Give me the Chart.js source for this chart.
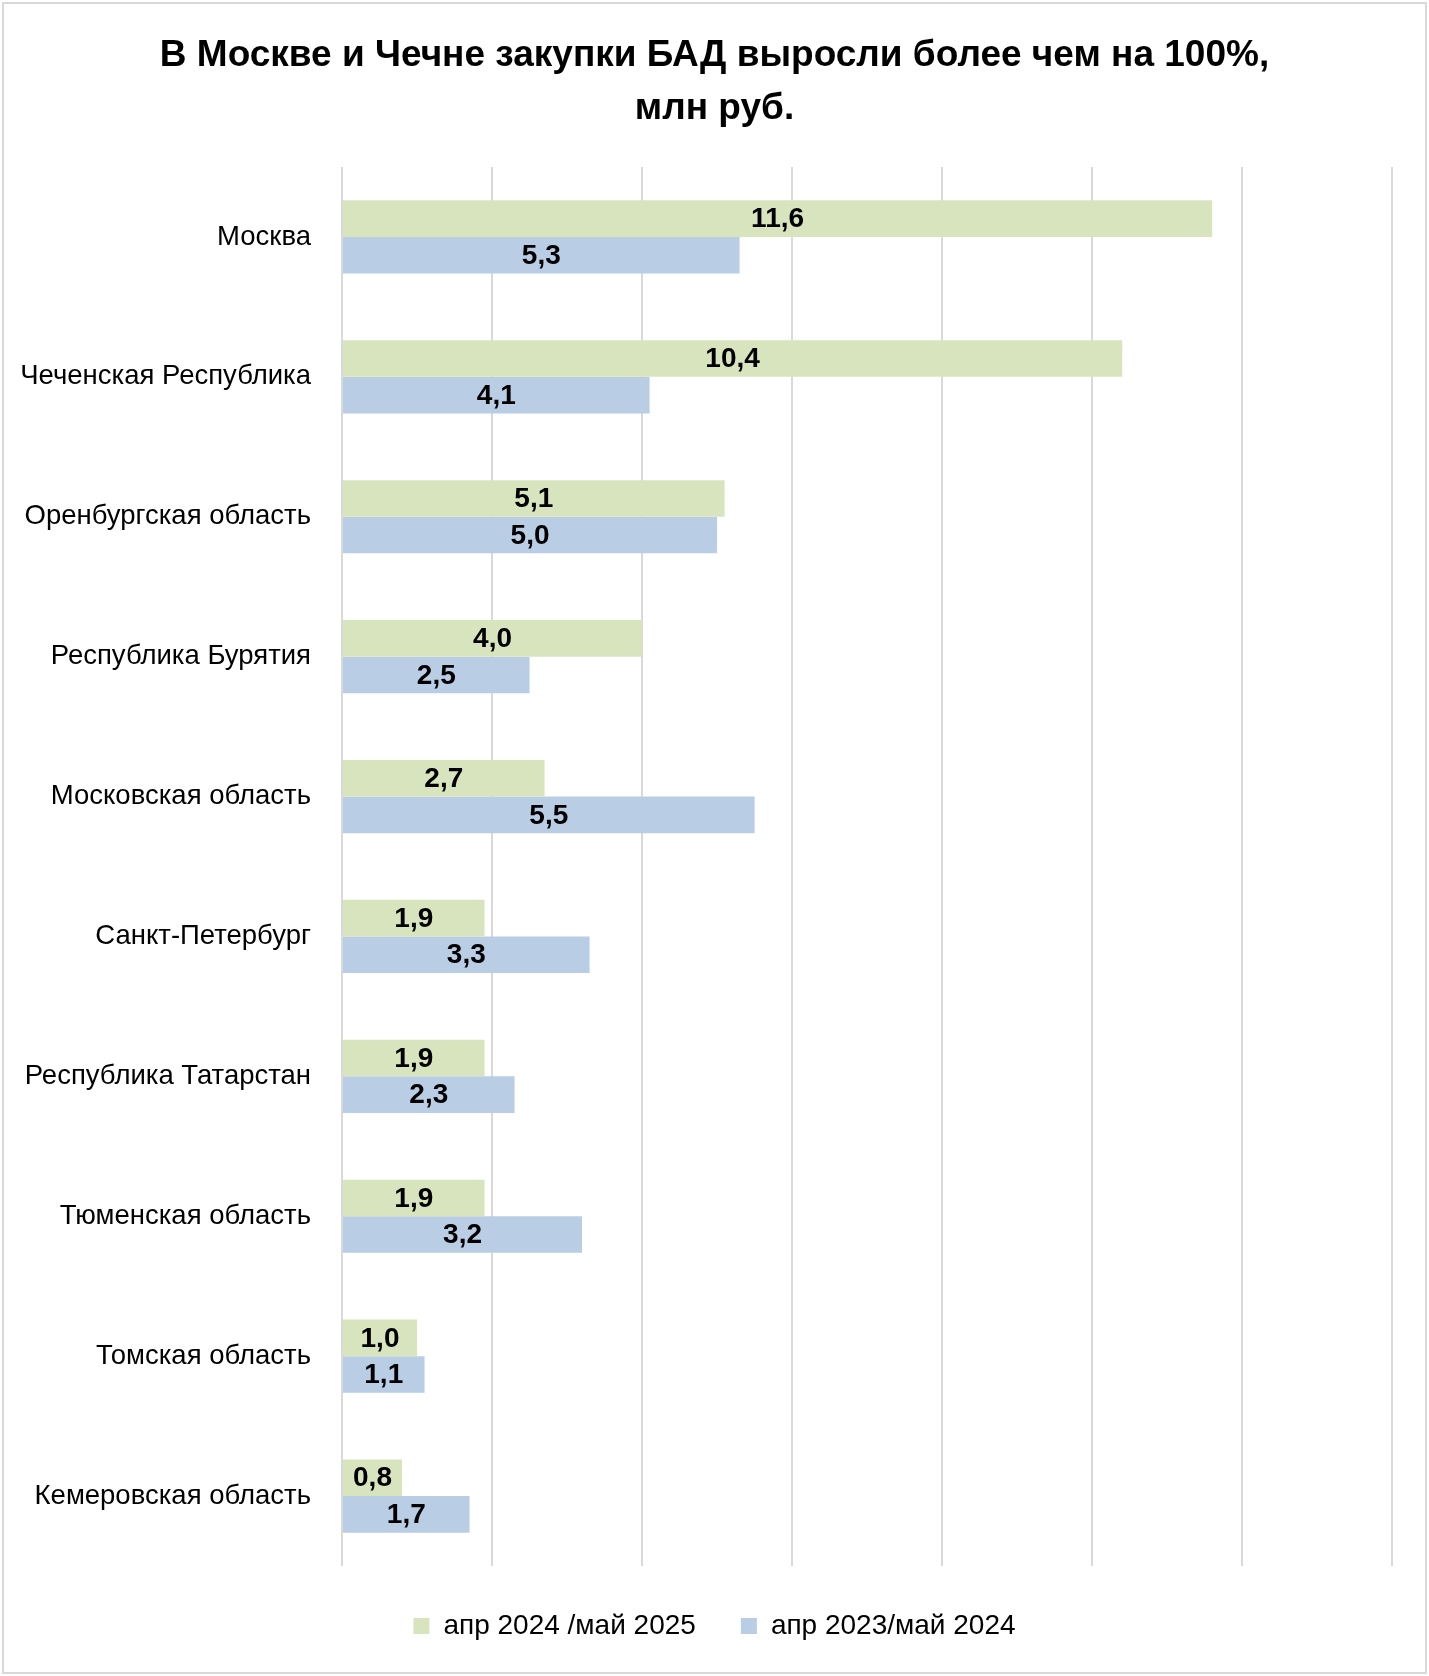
<!doctype html>
<html lang="ru">
  <head>
    <meta charset="UTF-8" />
    <title>Закупки БАД</title>
    <script src="https://cdn.jsdelivr.net/npm/chart.js"></script>
    <style>
      body { margin: 0; background: #fff; }
      #wrap { width: 1429px; height: 1676px; }
    </style>
  </head>
  <body>
    <div id="wrap"><canvas id="badChart"></canvas></div>
    <script>
      var regions = [
        "Москва",
        "Чеченская Республика",
        "Оренбургская область",
        "Республика Бурятия",
        "Московская область",
        "Санкт-Петербург",
        "Республика Татарстан",
        "Тюменская область",
        "Томская область",
        "Кемеровская область",
      ];
      var values2025 = [11.6, 10.4, 5.1, 4.0, 2.7, 1.9, 1.9, 1.9, 1.0, 0.8];
      var values2024 = [5.3, 4.1, 5.0, 2.5, 5.5, 3.3, 2.3, 3.2, 1.1, 1.7];
      var seriesNames = ["апр 2024 /май 2025", "апр 2023/май 2024"];

      Chart.defaults.font.family = "'Liberation Sans', Arial, sans-serif";
      Chart.defaults.color = "#000";

      // white background + light frame
      var frame = {
        id: "frame",
        beforeDraw: function (chart) {
          var c = chart.ctx;
          c.save();
          c.fillStyle = "#fff";
          c.fillRect(0, 0, chart.width, chart.height);
          c.strokeStyle = "#d9d9d9";
          c.lineWidth = 2;
          c.strokeRect(3, 3, chart.width - 6, chart.height - 6);
          c.restore();
        },
      };

      // value labels in the middle of each bar, comma decimal
      var barLabels = {
        id: "barLabels",
        afterDatasetsDraw: function (chart) {
          var c = chart.ctx;
          c.save();
          c.font = "bold 28px 'Liberation Sans', Arial, sans-serif";
          c.fillStyle = "#000";
          c.textAlign = "center";
          c.textBaseline = "middle";
          chart.data.datasets.forEach(function (ds, i) {
            chart.getDatasetMeta(i).data.forEach(function (bar, j) {
              var txt = ds.data[j].toFixed(1).replace(".", ",");
              c.fillText(txt, (bar.x + bar.base) / 2, bar.y + 1);
            });
          });
          c.restore();
        },
      };

      var ctx = document.getElementById("badChart").getContext("2d");
      var badChart = new Chart(ctx, {
        type: "bar",
        data: {
          labels: regions,
          datasets: [
            {
              label: seriesNames[0],
              data: values2025,
              backgroundColor: "rgb(216, 228, 189)",
              barPercentage: 1,
              categoryPercentage: 0.523,
            },
            {
              label: seriesNames[1],
              data: values2024,
              backgroundColor: "rgb(185, 205, 229)",
              barPercentage: 1,
              categoryPercentage: 0.523,
            },
          ],
        },
        options: {
          indexAxis: "y",
          responsive: true,
          maintainAspectRatio: false,
          animation: false,
          layout: { padding: { left: 0, right: 0, top: 0, bottom: 26 } },
          plugins: {
            title: {
              display: true,
              text: [
                "В Москве и Чечне закупки БАД выросли более чем на 100%,",
                "млн руб.",
              ],
              font: { size: 37, weight: "bold", lineHeight: 1.446 },
              color: "#000",
              padding: { top: 29, bottom: 31 },
            },
            legend: {
              position: "bottom",
              labels: {
                boxWidth: 16,
                boxHeight: 16,
                padding: 45,
                font: { size: 28 },
                color: "#000",
              },
            },
            tooltip: { enabled: false },
          },
          scales: {
            x: {
              min: 0,
              max: 14.49,
              ticks: { display: false, stepSize: 2, includeBounds: false },
              grid: { color: "#d9d9d9", lineWidth: 2, drawTicks: false },
              border: { display: false },
              afterFit: function (scale) {
                scale.height = 1;
              },
            },
            y: {
              grid: { display: false, drawTicks: false },
              border: { display: false },
              ticks: { padding: 31, font: { size: 27.5 }, color: "#000" },
              afterFit: function (scale) {
                scale.width = 342;
              },
            },
          },
        },
        plugins: [frame, barLabels],
      });
    </script>
  </body>
</html>
